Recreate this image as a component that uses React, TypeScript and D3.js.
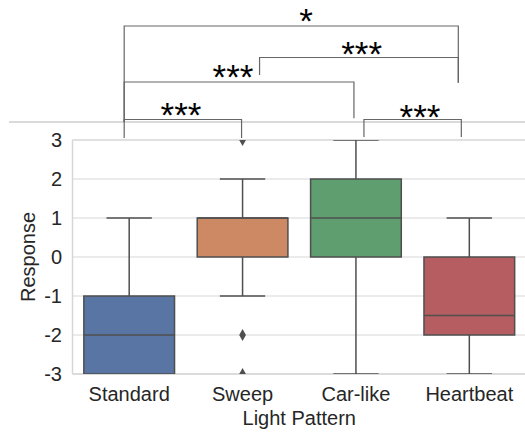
import React from "react";
import * as d3 from "d3";

const categories = ["Standard", "Sweep", "Car-like", "Heartbeat"];
const q1Values = [-3, 0, 0, -2];
const medianValues = [-2, 1, 1, -1.5];
const q3Values = [-1, 1, 2, 0];
const whiskerLowValues = [-3, -1, -3, -3];
const whiskerHighValues = [1, 2, 3, 1];
const outlierValues = [[], [3, -2, -3], [], []];
const yTicks = [-3, -2, -1, 0, 1, 2, 3];
const bracketPairs = [[0, 3], [1, 3], [0, 2], [0, 1], [2, 3]];
const bracketLabels = ["*", "***", "***", "***", "***"];

const boxColors = ["#5875a4", "#cc8963", "#5f9e6e", "#b55d60"];

// layout for brackets (pixel geometry)
const bracketGeom = [
  { y: 26, x1: -5, x2: -11, leg1: 122, leg2: 82.7, tx: 306, ty: 8 },
  { y: 57.5, x1: 17, x2: -11, leg1: 75, leg2: 82.7, tx: 361.7, ty: 41 },
  { y: 82, x1: -5, x2: -2, leg1: 122, leg2: 118.3, tx: 233, ty: 63.3 },
  { y: 119.5, x1: -5, x2: -1, leg1: 138, leg2: 138, tx: 181, ty: 101.6 },
  { y: 119.5, x1: 8, x2: -8, leg1: 137, leg2: 137, tx: 420, ty: 103.3 },
];

export default function App() {
  const W = 525, H = 439;
  const left = 72.5, right = 526, top = 140, bottom = 374;
  const x = d3.scaleBand<string>().domain(categories).range([left, right]).padding(0);
  const y = d3.scaleLinear().domain([-3, 3]).range([bottom, top]);
  const bw = x.bandwidth() * 0.8;
  const cx = (i: number) => (x(categories[i]) as number) + x.bandwidth() / 2;
  const lineColor = "#4f4f4f";
  const font = "'Liberation Sans', Arial, sans-serif";
  const starSize = 35;

  const diamond = (px: number, py: number) => {
    const hw = 3.4, hh = 6;
    return `M${px},${py - hh}L${px + hw},${py}L${px},${py + hh}L${px - hw},${py}Z`;
  };

  return (
    <svg width={W} height={H} style={{ position: "fixed", left: 0, top: 0, background: "#fff" }} fontFamily={font}>
      <defs>
        <clipPath id="axclip">
          <rect x={left} y={top} width={right - left} height={bottom - top} />
        </clipPath>
      </defs>
      <rect x={0} y={0} width={W} height={H} fill="#fff" />
      {yTicks.map((t) => (
        <line key={"g" + t} x1={left} x2={right} y1={y(t)} y2={y(t)} stroke="#e5e5e5" strokeWidth={1.5} />
      ))}
      <line x1={left} x2={left} y1={top} y2={bottom} stroke="#d6d6d6" strokeWidth={1.5} />
      <line x1={left} x2={right} y1={bottom} y2={bottom} stroke="#d6d6d6" strokeWidth={1.5} />
      <line x1={left} x2={right} y1={top} y2={top} stroke="#dcdcdc" strokeWidth={1.5} />
      <g clipPath="url(#axclip)">
        {categories.map((c, i) => {
          const xc = cx(i);
          const capW = bw / 2;
          return (
            <g key={c}>
              {whiskerHighValues[i] > q3Values[i] && (
                <>
                  <line x1={xc} x2={xc} y1={y(q3Values[i])} y2={y(whiskerHighValues[i])} stroke={lineColor} strokeWidth={1.5} />
                  <line x1={xc - capW / 2} x2={xc + capW / 2} y1={y(whiskerHighValues[i])} y2={y(whiskerHighValues[i])} stroke={lineColor} strokeWidth={1.5} />
                </>
              )}
              {whiskerLowValues[i] < q1Values[i] && (
                <>
                  <line x1={xc} x2={xc} y1={y(q1Values[i])} y2={y(whiskerLowValues[i])} stroke={lineColor} strokeWidth={1.5} />
                  <line x1={xc - capW / 2} x2={xc + capW / 2} y1={y(whiskerLowValues[i])} y2={y(whiskerLowValues[i])} stroke={lineColor} strokeWidth={1.5} />
                </>
              )}
              <rect x={xc - bw / 2} y={y(q3Values[i])} width={bw} height={y(q1Values[i]) - y(q3Values[i])} fill={boxColors[i]} stroke={lineColor} strokeWidth={1.5} />
              <line x1={xc - bw / 2} x2={xc + bw / 2} y1={y(medianValues[i])} y2={y(medianValues[i])} stroke={lineColor} strokeWidth={1.5} />
              {outlierValues[i].map((v, k) => (
                <path key={k} d={diamond(xc, y(v))} fill={lineColor} />
              ))}
            </g>
          );
        })}
      </g>
      {yTicks.map((t) => (
        <text key={"t" + t} x={62} y={y(t)} dy="0.35em" textAnchor="end" fontSize={20} fill="#262626">
          {t}
        </text>
      ))}
      {categories.map((c, i) => (
        <text key={"x" + c} x={cx(i)} y={401} textAnchor="middle" fontSize={20} fill="#262626">
          {c}
        </text>
      ))}
      <text x={(left + right) / 2} y={425} textAnchor="middle" fontSize={20} fill="#262626">
        Light Pattern
      </text>
      <text transform={`translate(35,${(top + bottom) / 2}) rotate(-90)`} textAnchor="middle" fontSize={20} fill="#262626">
        Response
      </text>
      <line x1={9} x2={W} y1={122} y2={122} stroke="#b5b5b5" strokeWidth={1.2} />
      {bracketPairs.map((p, k) => {
        const g = bracketGeom[k];
        const xa = cx(p[0]) + g.x1;
        const xb = cx(p[1]) + g.x2;
        return (
          <g key={"b" + k}>
            <path d={`M${xa},${g.leg1}L${xa},${g.y}L${xb},${g.y}L${xb},${g.leg2}`} fill="none" stroke="#666" strokeWidth={1.2} />
            <text x={g.tx} y={g.ty + starSize * 0.72} textAnchor="middle" fontSize={starSize} fill="#000">
              {bracketLabels[k]}
            </text>
          </g>
        );
      })}
    </svg>
  );
}
